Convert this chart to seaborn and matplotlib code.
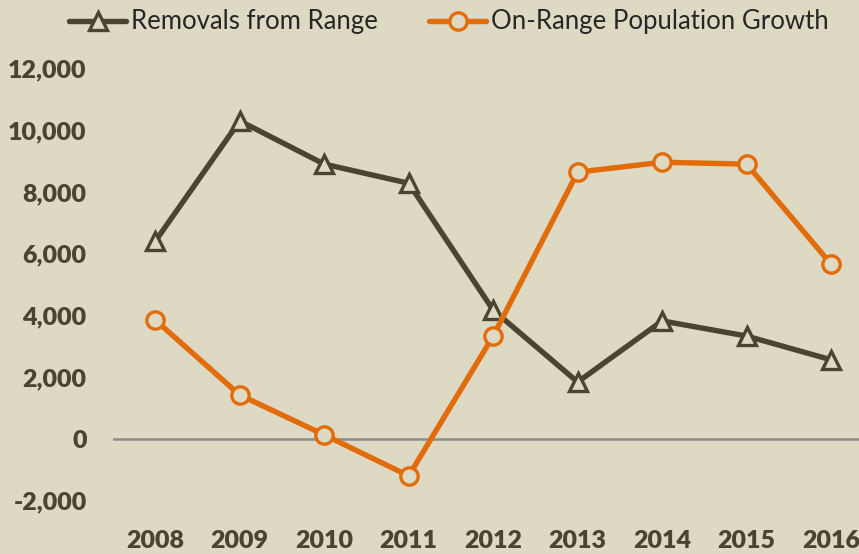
import pandas as pd
import matplotlib.pyplot as plt
import seaborn as sns

# values
years = ['2008', '2009', '2010', '2011', '2012', '2013', '2014', '2015', '2016']
removals = [6400, 10300, 8900, 8280, 4170, 1840, 3820, 3330, 2560]
growth = [3850, 1420, 130, -1200, 3330, 8640, 8960, 8900, 5660]
series_names = ['Removals from Range', 'On-Range Population Growth']
y_ticks = [-2000, 0, 2000, 4000, 6000, 8000, 10000, 12000]

bg = '#DED9C3'
dark = '#4A4530'
orange = '#E36C0A'

sns.set_style('white')
plt.rcParams['font.family'] = ['Lato', 'DejaVu Sans']

df = pd.DataFrame({
    'Year': years * 2,
    'Value': removals + growth,
    'Series': [series_names[0]] * len(years) + [series_names[1]] * len(years),
})

fig = plt.figure(figsize=(8.59, 5.54), dpi=100, facecolor=bg)
ax = fig.add_axes([113 / 859, 1 - 516 / 554, 1 - 113 / 859, (516 - 53) / 554])
ax.set_facecolor(bg)

ax.axhline(0, color='#8C8C8C', lw=1.8, zorder=1)

sns.lineplot(data=df, x='Year', y='Value', hue='Series', style='Series',
             palette={series_names[0]: dark, series_names[1]: orange},
             markers={series_names[0]: '^', series_names[1]: 'o'},
             dashes=False, sort=False, lw=3.9, ax=ax, zorder=3)

for line in ax.get_lines()[1:]:
    c = line.get_color()
    line.set_markersize(12.5)
    line.set_markerfacecolor(bg)
    line.set_markeredgecolor(c)
    line.set_markeredgewidth(2.4)

ax.set_xlim(-0.5, 8.33)
ax.set_ylim(-2500, 12500)
ax.set_yticks(y_ticks)
ax.set_yticklabels([f'{v:,}' for v in y_ticks])
ax.set_xlabel('')
ax.set_ylabel('')
for s in ax.spines.values():
    s.set_visible(False)
ax.tick_params(axis='y', length=0, pad=19, labelsize=18, labelcolor=dark)
ax.tick_params(axis='x', length=0, pad=10, labelsize=18, labelcolor=dark)
for lbl in ax.get_xticklabels() + ax.get_yticklabels():
    lbl.set_fontweight('heavy')

handles = ax.get_lines()[1:]
ax.get_legend().remove()
fig.legend(handles, series_names, loc='center', ncol=2,
           bbox_to_anchor=(449 / 859, 1 - 22 / 554), frameon=False,
           fontsize=18.5, handlelength=2.2, handletextpad=0.2, columnspacing=2.0)

fig.savefig('out.png', dpi=100, facecolor=bg)
